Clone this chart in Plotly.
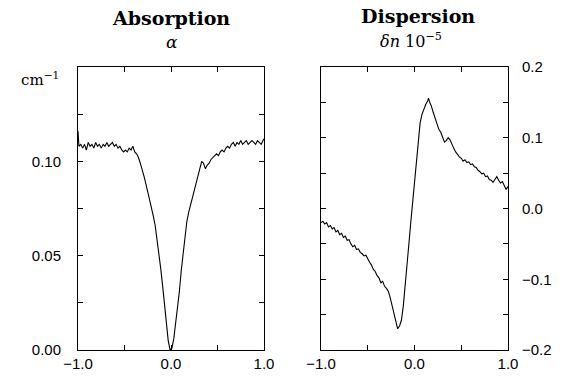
import plotly.graph_objects as go

abs_x = [-1.00, -0.99, -0.97, -0.95, -0.93, -0.91, -0.89, -0.87, -0.85, -0.83, -0.81, -0.79, -0.77, -0.75,
         -0.73, -0.71, -0.69, -0.67, -0.65, -0.63, -0.61, -0.59, -0.57, -0.55, -0.53, -0.51, -0.49, -0.47,
         -0.45, -0.43, -0.41, -0.39, -0.37, -0.35, -0.33, -0.31, -0.29, -0.27, -0.25, -0.23, -0.21, -0.19,
         -0.17, -0.15, -0.13, -0.11, -0.09, -0.07, -0.05, -0.03, -0.01, 0.01, 0.03, 0.05, 0.07, 0.09, 0.11,
         0.13, 0.15, 0.17, 0.19, 0.21, 0.23, 0.25, 0.27, 0.29, 0.31, 0.33, 0.35, 0.37, 0.39, 0.41, 0.43,
         0.45, 0.47, 0.49, 0.51, 0.53, 0.55, 0.57, 0.59, 0.61, 0.63, 0.65, 0.67, 0.69, 0.71, 0.73, 0.75,
         0.77, 0.79, 0.81, 0.83, 0.85, 0.87, 0.89, 0.91, 0.93, 0.95, 0.97, 0.99, 1.00]
abs_y = [0.116, 0.108, 0.109, 0.107, 0.109, 0.106, 0.110, 0.108, 0.109, 0.107, 0.110, 0.108, 0.109, 0.107,
         0.109, 0.108, 0.110, 0.108, 0.109, 0.110, 0.108, 0.109, 0.107, 0.108, 0.106, 0.105, 0.106, 0.105,
         0.107, 0.106, 0.108, 0.105, 0.104, 0.102, 0.099, 0.096, 0.092, 0.088, 0.084, 0.079, 0.075, 0.071,
         0.066, 0.059, 0.051, 0.043, 0.034, 0.024, 0.014, 0.005, 0.000, 0.001, 0.006, 0.014, 0.022, 0.031, 0.042,
         0.052, 0.061, 0.068, 0.073, 0.077, 0.080, 0.085, 0.089, 0.093, 0.097, 0.100, 0.099, 0.096, 0.098, 0.099, 0.101,
         0.102, 0.103, 0.104, 0.103, 0.105, 0.106, 0.105, 0.107, 0.108, 0.107, 0.109, 0.110, 0.108, 0.110, 0.109, 0.111,
         0.109, 0.110, 0.111, 0.109, 0.110, 0.111, 0.110, 0.109, 0.111, 0.110, 0.109, 0.111, 0.112]

disp_x = [-1.00, -0.98, -0.96, -0.94, -0.92, -0.90, -0.88, -0.86, -0.84, -0.82, -0.80, -0.78, -0.76, -0.74,
          -0.72, -0.70, -0.68, -0.66, -0.64, -0.62, -0.60, -0.58, -0.56, -0.54, -0.52, -0.50, -0.48, -0.46,
          -0.44, -0.42, -0.40, -0.38, -0.36, -0.34, -0.32, -0.30, -0.28, -0.26, -0.24, -0.22, -0.20, -0.18,
          -0.16, -0.14, -0.12, -0.10, -0.08, -0.06, -0.04, -0.02, 0.00, 0.02, 0.04, 0.06, 0.08, 0.10, 0.12,
          0.14, 0.15, 0.16, 0.18, 0.20, 0.22, 0.24, 0.26, 0.28, 0.30, 0.32, 0.34, 0.36, 0.38, 0.40, 0.42,
          0.44, 0.46, 0.48, 0.50, 0.52, 0.54, 0.56, 0.58, 0.60, 0.62, 0.64, 0.66, 0.68, 0.70, 0.72, 0.74,
          0.76, 0.78, 0.80, 0.82, 0.84, 0.86, 0.88, 0.90, 0.92, 0.94, 0.96, 0.98, 1.00]
disp_y = [-0.020, -0.018, -0.022, -0.020, -0.026, -0.024, -0.029, -0.027, -0.033, -0.031, -0.037, -0.035, -0.041, -0.039,
          -0.045, -0.044, -0.050, -0.054, -0.052, -0.058, -0.057, -0.062, -0.064, -0.067, -0.066, -0.072, -0.076, -0.080,
          -0.086, -0.089, -0.095, -0.098, -0.105, -0.103, -0.110, -0.113, -0.117, -0.126, -0.137, -0.150, -0.163, -0.170,
          -0.166, -0.158, -0.138, -0.112, -0.082, -0.050, -0.020, 0.008, 0.040, 0.070, 0.098, 0.121, 0.133, 0.141, 0.147,
          0.152, 0.156, 0.151, 0.145, 0.136, 0.129, 0.120, 0.112, 0.108, 0.101, 0.094, 0.096, 0.100, 0.097, 0.090, 0.085,
          0.080, 0.076, 0.073, 0.071, 0.067, 0.069, 0.065, 0.066, 0.062, 0.063, 0.059, 0.058, 0.054, 0.052, 0.049, 0.050,
          0.045, 0.046, 0.041, 0.040, 0.037, 0.041, 0.045, 0.040, 0.036, 0.038, 0.032, 0.027, 0.031]

x_tickvals = [-1.0, 0.0, 1.0]
x_ticktext = ["\u22121.0", "0.0", "1.0"]
x_minorvals = [-0.5, 0.5]
abs_tickvals = [0.0, 0.05, 0.10]
abs_ticktext = ["0.00", "0.05", "0.10"]
abs_minorvals = [0.025, 0.075, 0.125]
disp_tickvals = [-0.2, -0.1, 0.0, 0.1, 0.2]
disp_ticktext = ["\u22120.2", "\u22120.1", "0.0", "0.1", "0.2"]
disp_minorvals = [-0.15, -0.05, 0.05, 0.15]

W, H = 563, 377
fig = go.Figure()
fig.add_trace(go.Scatter(x=abs_x, y=abs_y, mode="lines", line=dict(color="black", width=1.1),
                         xaxis="x", yaxis="y", showlegend=False))
fig.add_trace(go.Scatter(x=disp_x, y=disp_y, mode="lines", line=dict(color="black", width=1.1),
                         xaxis="x2", yaxis="y2", showlegend=False))

tickfont = dict(family="Liberation Sans, Arial, sans-serif", size=15, color="black")
common = dict(showline=True, linecolor="black", linewidth=1, mirror="ticks", ticks="inside",
              ticklen=5, tickcolor="black", showgrid=False, zeroline=False, tickfont=tickfont,
              automargin=False)


def minor(vals):
    return dict(tickmode="array", tickvals=vals, ticks="inside", ticklen=5, tickcolor="black", showgrid=False)


ydom = [1 - 350 / H, 1 - 67 / H]
fig.update_layout(
    width=W, height=H, margin=dict(l=0, r=0, t=0, b=0, autoexpand=False),
    paper_bgcolor="white", plot_bgcolor="white",
    xaxis=dict(domain=[78 / W, 264 / W], range=[-1, 1], tickmode="array", tickvals=x_tickvals,
               ticktext=x_ticktext, minor=minor(x_minorvals), anchor="y", **common),
    yaxis=dict(domain=ydom, range=[0, 0.15], tickmode="array", tickvals=abs_tickvals, ticktext=abs_ticktext,
               minor=minor(abs_minorvals), anchor="x", side="left", ticklabelstandoff=13, **common),
    xaxis2=dict(domain=[321 / W, 508 / W], range=[-1, 1], tickmode="array", tickvals=x_tickvals,
                ticktext=x_ticktext, minor=minor(x_minorvals), anchor="y2", **common),
    yaxis2=dict(domain=ydom, range=[-0.2, 0.2], tickmode="array", tickvals=disp_tickvals, ticktext=disp_ticktext,
                minor=minor(disp_minorvals), anchor="x2", side="right", ticklabelstandoff=10, **common),
)

serif = "DejaVu Serif, Liberation Serif, serif"
ann = [
    dict(text="<b>Absorption</b>", x=171 / W, y=1 - 18 / H, font=dict(family=serif, size=19)),
    dict(text="<i>\u03b1</i>", x=172 / W, y=1 - 42 / H, font=dict(family=serif, size=17)),
    dict(text="cm<sup>\u22121</sup>", x=40 / W, y=1 - 79 / H, font=dict(family=serif, size=15)),
    dict(text="<b>Dispersion</b>", x=418 / W, y=1 - 16 / H, font=dict(family=serif, size=19)),
    dict(text="<i>\u03b4n</i> 10<sup>\u22125</sup>", x=411 / W, y=1 - 41 / H, font=dict(family=serif, size=16)),
]
for a in ann:
    a.update(xref="paper", yref="paper", showarrow=False, xanchor="center", yanchor="middle")
    a["font"]["color"] = "black"
fig.update_layout(annotations=ann)

fig.write_html("out.html", config={"displayModeBar": False},
               post_script="document.body.style.margin='0';document.body.style.overflow='hidden';")
